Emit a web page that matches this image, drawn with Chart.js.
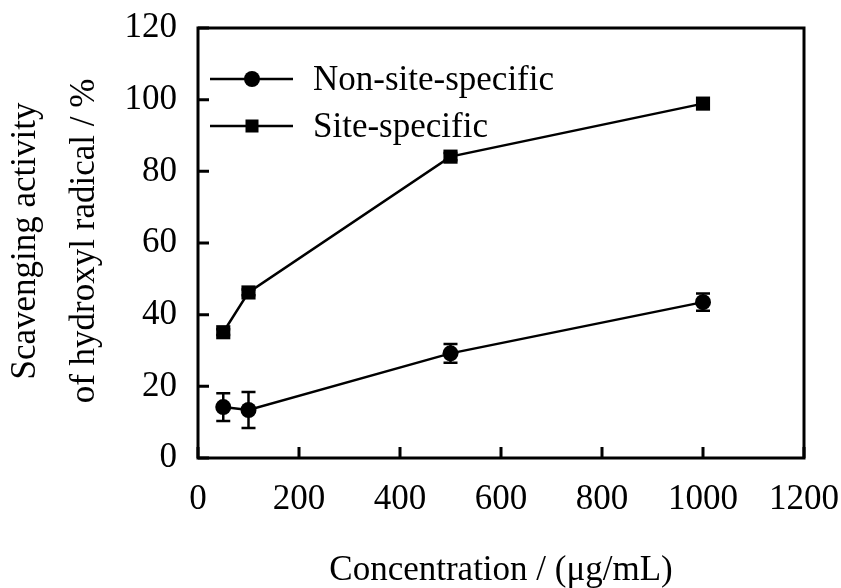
<!DOCTYPE html>
<html>
<head>
<meta charset="utf-8">
<script src="https://cdn.jsdelivr.net/npm/chart.js@4.4.0/dist/chart.umd.min.js"></script>
<style>
  body { margin: 0; background: #fff; }
</style>
</head>
<body>
<canvas id="chart" width="841" height="588"></canvas>
<script>
// concentration in ug/mL
const concentrations = [50, 100, 500, 1000]
const nonSiteSpecific = [14.2, 13.4, 29.2, 43.5]
const nonSiteErr = [3.9, 5.0, 2.6, 2.4]
const siteSpecific = [35.1, 46.2, 84.1, 98.9]
const siteErr = [0.8, 0.8, 1.0, 0.8]
const xTicks = [0, 200, 400, 600, 800, 1000, 1200]
const yTicks = [0, 20, 40, 60, 80, 100, 120]

const FONT = '"Liberation Serif", "Times New Roman", serif'
const FONT_SIZE = 35

function toPoints(xs, ys) {
  return xs.map(function (x, i) {
    return { x: x, y: ys[i] }
  })
}

// box, inward ticks, error bars, legend and axis titles
const decorations = {
  id: 'decorations',
  afterDatasetsDraw(chart) {
    const ctx = chart.ctx
    const x = chart.scales.x
    const y = chart.scales.y
    ctx.save()
    ctx.strokeStyle = '#000'
    ctx.lineWidth = 2.5
    chart.data.datasets.forEach(function (ds) {
      ds.data.forEach(function (p, i) {
        const px = x.getPixelForValue(p.x)
        const top = y.getPixelForValue(p.y + ds.err[i])
        const bot = y.getPixelForValue(p.y - ds.err[i])
        ctx.beginPath()
        ctx.moveTo(px, top); ctx.lineTo(px, bot)
        ctx.moveTo(px - 7, top); ctx.lineTo(px + 7, top)
        ctx.moveTo(px - 7, bot); ctx.lineTo(px + 7, bot)
        ctx.stroke()
      })
    })
    ctx.restore()
  },
  afterDraw(chart) {
    const ctx = chart.ctx
    const a = chart.chartArea
    const x = chart.scales.x
    const y = chart.scales.y
    ctx.save()
    ctx.strokeStyle = '#000'
    ctx.lineWidth = 3
    ctx.strokeRect(a.left, a.top, a.right - a.left, a.bottom - a.top)
    ctx.beginPath()
    xTicks.forEach(function (v) {
      const px = x.getPixelForValue(v)
      ctx.moveTo(px, a.bottom); ctx.lineTo(px, a.bottom - 11)
    })
    yTicks.forEach(function (v) {
      const py = y.getPixelForValue(v)
      ctx.moveTo(a.left, py); ctx.lineTo(a.left + 11, py)
    })
    ctx.stroke()

    // legend
    ctx.lineWidth = 2.5
    ctx.font = FONT_SIZE + 'px ' + FONT
    ctx.fillStyle = '#000'
    const rows = [79, 126]
    chart.data.datasets.forEach(function (ds, i) {
      const ry = rows[i]
      ctx.beginPath()
      ctx.moveTo(210, ry); ctx.lineTo(293, ry)
      ctx.stroke()
      if (ds.pointStyle === 'rect') {
        ctx.fillRect(252 - 6.5, ry - 6.5, 13, 13)
      } else {
        ctx.beginPath()
        ctx.arc(252, ry, 8, 0, Math.PI * 2)
        ctx.fill()
      }
      ctx.textAlign = 'left'
      ctx.textBaseline = 'alphabetic'
      ctx.fillText(ds.label, 313, ry + 11)
    })

    // axis titles
    ctx.textAlign = 'center'
    ctx.textBaseline = 'alphabetic'
    ctx.fillText('Concentration / (\u03bcg/mL)', (a.left + a.right) / 2, 580)
    ctx.translate(0, 241)
    ctx.rotate(-Math.PI / 2)
    ctx.fillText('Scavenging activity', 0, 35)
    ctx.fillText('of hydroxyl radical / %', 0, 94)
    ctx.restore()
  }
}

const datasetStyle = {
  borderColor: '#000',
  backgroundColor: '#000',
  borderWidth: 2.5,
  pointBorderWidth: 0,
  showLine: true,
  tension: 0
}

new Chart(document.getElementById('chart'), {
  type: 'scatter',
  data: {
    datasets: [
      Object.assign({
        label: 'Non-site-specific',
        data: toPoints(concentrations, nonSiteSpecific),
        err: nonSiteErr,
        pointStyle: 'circle',
        pointRadius: 8
      }, datasetStyle),
      Object.assign({
        label: 'Site-specific',
        data: toPoints(concentrations, siteSpecific),
        err: siteErr,
        pointStyle: 'rect',
        pointRadius: 10
      }, datasetStyle)
    ]
  },
  options: {
    responsive: false,
    animation: false,
    layout: { padding: { left: 0, right: 37, top: 28, bottom: 0 } },
    plugins: {
      legend: { display: false },
      tooltip: { enabled: false }
    },
    scales: {
      x: {
        type: 'linear',
        min: 0,
        max: 1200,
        afterBuildTicks: function (axis) {
          axis.ticks = xTicks.map(function (v) { return { value: v } })
        },
        afterFit: function (axis) {
          axis.height = 130
          axis.paddingLeft = 0
          axis.paddingRight = 0
        },
        grid: { display: false, drawTicks: false },
        border: { display: false },
        ticks: {
          color: '#000',
          padding: 21,
          font: { family: FONT, size: FONT_SIZE },
          callback: function (v) { return String(v) }
        }
      },
      y: {
        min: 0,
        max: 120,
        afterBuildTicks: function (axis) {
          axis.ticks = yTicks.map(function (v) { return { value: v } })
        },
        afterFit: function (axis) {
          axis.width = 198
          axis.paddingTop = 0
          axis.paddingBottom = 0
        },
        grid: { display: false, drawTicks: false },
        border: { display: false },
        ticks: {
          color: '#000',
          padding: 21,
          font: { family: FONT, size: FONT_SIZE },
          callback: function (v) { return String(v) }
        }
      }
    }
  },
  plugins: [decorations]
})
</script>
</body>
</html>
